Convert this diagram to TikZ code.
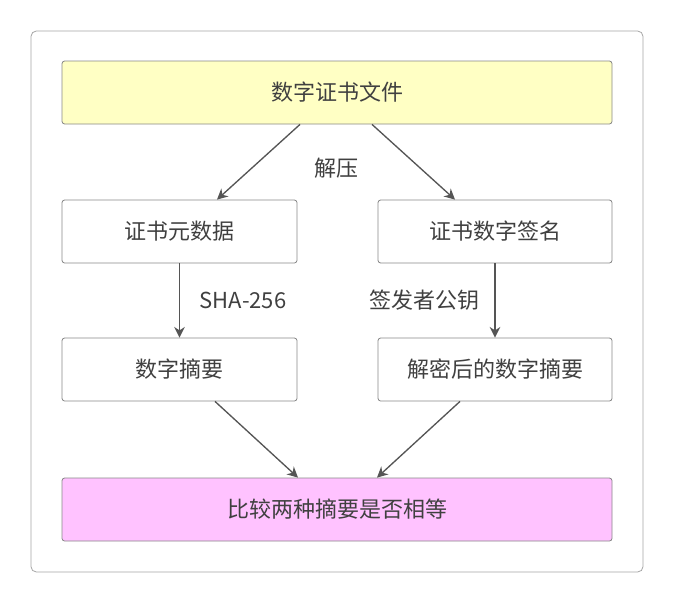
\documentclass[tikz,border=0pt]{standalone}
\usepackage{fontspec}
\setmainfont{Noto Sans CJK SC}
\usetikzlibrary{arrows.meta}
\definecolor{edge}{HTML}{555555}
\definecolor{ylw}{HTML}{FFFFC4}
\definecolor{pnk}{HTML}{FFC2FF}
\tikzset{
  bx/.style={draw=edge!70, line width=0.6pt, rounded corners=2pt, minimum height=63*0.75pt, font=\fontsize{16.5pt}{19pt}\selectfont, text=black!75},
  arr/.style={draw=edge, line width=1pt, -{Stealth[length=8pt,width=8pt]}},
  lbl/.style={font=\fontsize{16.5pt}{19pt}\selectfont, text=black!75}
}
\begin{document}
\begin{tikzpicture}[x=0.75pt,y=-0.75pt]
\useasboundingbox (0,0) rectangle (674,603);
\fill[white] (0,0) rectangle (674,603);
\draw[black!35, line width=0.6pt, rounded corners=4pt] (31,31) rectangle (643,572);
\node[bx, fill=ylw, minimum width=550*0.75pt] (top) at (337,92.5) {数字证书文件};
\node[bx, minimum width=235*0.75pt] (meta) at (179.5,231.5) {证书元数据};
\node[bx, minimum width=234*0.75pt] (sig) at (495,231.5) {证书数字签名};
\node[bx, minimum width=235*0.75pt] (dig) at (179.5,369.5) {数字摘要};
\node[bx, minimum width=234*0.75pt] (ddig) at (495,369.5) {解密后的数字摘要};
\node[bx, fill=pnk, minimum width=550*0.75pt] (cmp) at (337,509.5) {比较两种摘要是否相等};
\draw[arr] ([xshift=-37*0.75pt]top.south) -- ([xshift=37.5*0.75pt]meta.north);
\draw[arr] ([xshift=35*0.75pt]top.south) -- ([xshift=-40*0.75pt]sig.north);
\node[lbl] (unz) at (336,168) {解压};
\draw[arr] (meta.south) -- (dig.north);
\draw[arr] (sig.south) -- (ddig.north);
\node[lbl] (sha) at (243,300) {SHA-256};
\node[lbl] (pk) at (424,300) {签发者公钥};
\draw[arr] ([xshift=35.5*0.75pt]dig.south) -- ([xshift=-39*0.75pt]cmp.north);
\draw[arr] ([xshift=-35*0.75pt]ddig.south) -- ([xshift=40*0.75pt]cmp.north);
\end{tikzpicture}
\end{document}
